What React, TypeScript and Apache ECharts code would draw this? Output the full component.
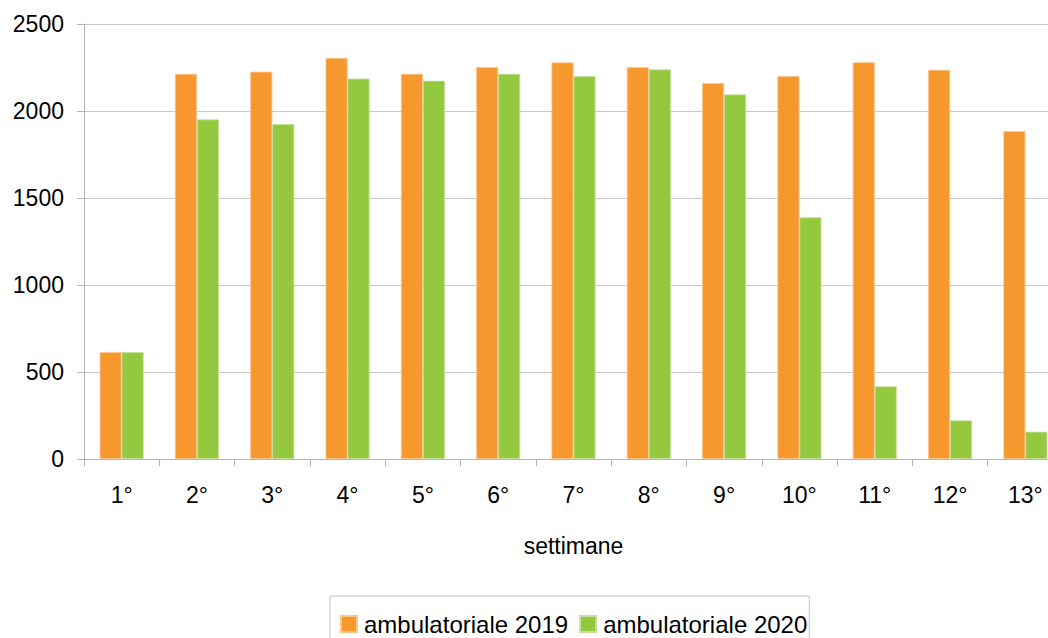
import React, { useEffect, useRef } from "react";
import * as echarts from "echarts";

const categories = ["1°", "2°", "3°", "4°", "5°", "6°", "7°", "8°", "9°", "10°", "11°", "12°", "13°"];
const amb2019 = [615, 2213, 2226, 2305, 2214, 2253, 2279, 2253, 2161, 2201, 2280, 2237, 1885];
const amb2020 = [615, 1952, 1925, 2186, 2174, 2214, 2201, 2239, 2095, 1389, 417, 222, 157];
const yTicks = { min: 0, max: 2500, interval: 500 };

export default function App() {
  const ref = useRef<HTMLDivElement>(null);
  useEffect(() => {
    if (!ref.current) return;
    const chart = echarts.init(ref.current, undefined, { renderer: "svg" });
    const font = "'Liberation Sans', Arial, sans-serif";
    chart.setOption({
      animation: false,
      textStyle: { fontFamily: font },
      grid: { left: 84, top: 24, right: 17, bottom: 179, containLabel: false },
      xAxis: {
        type: "category",
        data: categories,
        name: "settimane",
        nameLocation: "middle",
        nameGap: 75,
        nameTextStyle: { fontSize: 23, color: "#000", fontFamily: font },
        axisLine: { lineStyle: { color: "#b3b3b3", width: 1 } },
        axisTick: { show: true, length: 7, lineStyle: { color: "#b3b3b3" } },
        axisLabel: { fontSize: 23, color: "#000", margin: 24, fontFamily: font },
      },
      yAxis: {
        type: "value",
        min: yTicks.min,
        max: yTicks.max,
        interval: yTicks.interval,
        axisLine: { show: true, lineStyle: { color: "#b3b3b3", width: 1 } },
        axisTick: { show: true, length: 7, lineStyle: { color: "#b3b3b3" } },
        axisLabel: { fontSize: 23, color: "#000", margin: 20, fontFamily: font, formatter: (v: number) => String(v) },
        splitLine: { show: true, lineStyle: { color: "#c8c8c8", width: 1 } },
      },
      legend: {
        left: 330,
        top: 596,
        itemWidth: 16,
        itemHeight: 16,
        itemGap: 11,
        padding: [16, 2, 16, 10],
        borderColor: "#c0c0c0",
        borderWidth: 1,
        icon: "rect",
        textStyle: { fontSize: 24, color: "#000", fontFamily: font, padding: [0, 0, 0, 2] },
        data: ["ambulatoriale 2019", "ambulatoriale 2020"],
      },
      series: [
        {
          name: "ambulatoriale 2019",
          type: "bar",
          data: amb2019,
          barWidth: 22,
          barGap: "0%",
          itemStyle: { color: "#F7982F", borderColor: "#FBC48A", borderWidth: 0.8 },
        },
        {
          name: "ambulatoriale 2020",
          type: "bar",
          data: amb2020,
          barWidth: 22,
          barGap: "0%",
          itemStyle: { color: "#94C83F", borderColor: "#C4E09A", borderWidth: 0.8 },
        },
      ],
    });
    return () => chart.dispose();
  }, []);
  return (
    <div style={{ position: "absolute", left: 0, top: 0, width: 1048, height: 638, overflow: "hidden" }}>
      <div ref={ref} style={{ width: 1080, height: 638 }} />
    </div>
  );
}
